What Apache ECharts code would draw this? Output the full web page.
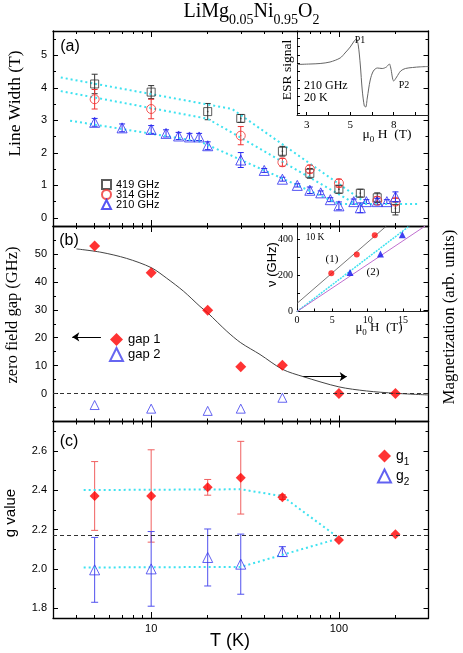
<!DOCTYPE html>
<html>
<head>
<meta charset="utf-8">
<script src="https://cdn.jsdelivr.net/npm/echarts@6/dist/echarts.min.js"></script>
<style>
  html, body { margin: 0; padding: 0; background: #fff; }
  #chart { width: 463px; height: 653px; }
</style>
</head>
<body>
<div id="chart"></div>
<script>
// values

// (a) line width vs T, three frequencies
const t419 = [5, 10, 20, 30, 50, 70, 100, 130, 160, 200]
const w419 = [4.12, 3.87, 3.27, 3.06, 2.05, 1.37, 0.88, 0.76, 0.62, 0.29]
const e419 = [0.3, 0.2, 0.25, 0.12, 0.15, 0.15, 0.12, 0.12, 0.15, 0.2]
const t314 = [5, 10, 30, 50, 70, 100, 160, 200]
const w314 = [3.65, 3.35, 2.53, 1.71, 1.5, 1.07, 0.53, 0.5]
const e314 = [0.3, 0.3, 0.28, 0.12, 0.12, 0.12, 0.12, 0.1]
const t210 = [5, 7, 10, 12, 14, 16, 18, 20, 30, 40, 50, 60, 70, 80, 90, 100, 120, 130, 140, 160, 180, 200]
const w210 = [2.94, 2.77, 2.72, 2.6, 2.52, 2.49, 2.49, 2.22, 1.78, 1.46, 1.19, 1.0, 0.85, 0.77, 0.56, 0.37, 0.5, 0.31, 0.5, 0.5, 0.5, 0.65]
const e210 = [0.12, 0.12, 0.12, 0.11, 0.11, 0.11, 0.11, 0.12, 0.23, 0.06, 0.06, 0.05, 0.1, 0.06, 0.06, 0.12, 0.08, 0.15, 0.06, 0.1, 0.06, 0.15]
// cyan guides in (a): [T, width]
const guideA419 = [[3.3, 4.32], [27, 3.35], [140, 0.45]]
const guideA314 = [[3.3, 3.9], [20, 3.05], [120, 0.46]]
const guideA210 = [[3.7, 2.99], [18.2, 2.35], [100, 0.43], [270, 0.43]]

// (a) inset: ESR trace at 210 GHz, 20 K
const esrH = [2.44, 3.19, 3.77, 4.34, 4.92, 5.2, 5.5, 5.73, 5.85, 5.96, 6.08, 6.19, 6.31, 6.39, 6.48, 6.65, 6.83, 7.06, 7.34, 7.58, 7.75, 7.83, 8.0, 8.17, 8.4, 8.67, 9.08, 9.54, 10]
const esrS = [18.6, 19.2, 19.8, 21.6, 26.4, 32.4, 39.6, 46.8, 49.2, 42, 18, -12, -31.2, -32.4, -21.6, 0, 10.8, 14.4, 13.8, 15.6, 19.2, 14.4, -1.2, 3.6, 10.8, 13.8, 15, 15.8, 16.2]
const esrTicks = [3, 5.5, 8]
const esrTickLabels = ['3', '5', '8']

// (b) zero field gap
const tGap1 = [5, 10, 20, 30, 50, 100, 200]
const gap1 = [52.8, 43.3, 29.8, 9.6, 10.1, 0, 0]
const tGap2 = [5, 10, 20, 30, 50]
const gap2 = [-4.1, -5.4, -6.2, -5.4, -1.5]
// magnetization curve (right axis, arb. units)
const magT = [4, 5.4, 7.4, 10, 12.1, 14.9, 18.2, 20, 25.3, 30, 38, 50, 64.6, 100, 140, 200, 300]
const magV = [51.8, 50.6, 48.4, 45.1, 41.3, 36.6, 31.2, 28.9, 22.3, 18.2, 14.0, 8.7, 6.05, 2.4, 0.94, 0.1, -0.5]
// arrows: [T head/tail..., value]
const arrowLeft = [3.8, 5.4, 20.3]
const arrowRight = [64.6, 110, 6.06]

// (b) inset: frequency vs field at 10 K
const mode1H = [4.85, 8.45, 11.0]
const mode1F = [213, 317, 424]
const mode2H = [7.5, 11.8, 14.9]
const mode2F = [216, 320, 426]
const fit1 = [[0, 45], [12.65, 475]]
const fitCyan = [[0, 0], [15.9, 475]]
const fitViolet = [[0, 0], [18.13, 475]]

// (c) g values
const tG1 = [5, 10, 20, 30, 50, 100, 200]
const g1 = [2.371, 2.371, 2.415, 2.464, 2.365, 2.147, 2.176]
const g1err = [0.175, 0.235, 0.04, 0.185, 0.012, 0, 0]
const tG2 = [5, 10, 20, 30, 50]
const g2 = [1.995, 2.0, 2.058, 2.024, 2.088]
const g2err = [0.165, 0.19, 0.145, 0.153, 0.025]
const guideC1 = [[4.37, 2.401], [30, 2.405], [50, 2.37], [100, 2.157]]
const guideC2 = [[4.37, 2.007], [30, 2.01], [100, 2.155]]
const gFree = 2.165

// tick positions
const xMajor = [10, 100]
const xMinor = [4, 5, 6, 7, 8, 9, 20, 30, 40, 50, 60, 70, 80, 90, 200]

const lg = Math.log10
const XMIN = lg(3)
const XMAX = lg(300)
const serif = 'Liberation Serif'
const sans = 'Liberation Sans'
const cyan = '#3ee2f0'

const grids = [
  { left: 53, top: 31, width: 375.5, height: 195 },
  { left: 53, top: 226, width: 375.5, height: 195.5 },
  { left: 53, top: 421.5, width: 375.5, height: 196.5 },
  { left: 297, top: 31, width: 131.5, height: 84 },
  { left: 297, top: 226, width: 131.5, height: 85.5 }
]

function axis(grid, position, min, max, ticks, len, extra) {
  return Object.assign({
    type: 'value', gridIndex: grid, position: position, min: min, max: max,
    axisLine: { show: false, onZero: false },
    axisTick: { show: true, inside: true, length: len, customValues: ticks, lineStyle: { color: '#000', width: 1 } },
    axisLabel: { show: false },
    splitLine: { show: false }
  }, extra || {})
}
const frame = { show: true, onZero: false, lineStyle: { color: '#000', width: 1.3 } }

const xAxis = []
const yAxis = []
// main panels: 4 x axes and 4 y axes each (major + minor on both sides)
const yRanges = [
  { min: -0.25, max: 5.75, major: [0, 1, 2, 3, 4, 5], minor: [0.5, 1.5, 2.5, 3.5, 4.5, 5.5], fmt: v => String(v) },
  { min: -10, max: 60, major: [0, 10, 20, 30, 40, 50], minor: [-5, 5, 15, 25, 35, 45, 55], fmt: v => String(v) },
  { min: 1.75, max: 2.75, major: [1.8, 2.0, 2.2, 2.4, 2.6], minor: [1.9, 2.1, 2.3, 2.5, 2.7], fmt: v => v.toFixed(1) }
]
for (let g = 0; g < 3; g++) {
  const xm = xMajor.map(lg)
  const xn = xMinor.map(lg)
  xAxis.push(axis(g, 'bottom', XMIN, XMAX, xm, 6, {
    axisLine: frame,
    axisLabel: g === 2 ? {
      show: true, customValues: xm, margin: 5, color: '#000', fontFamily: sans, fontSize: 11,
      formatter: v => String(Math.round(Math.pow(10, v)))
    } : { show: false }
  }))
  xAxis.push(axis(g, 'top', XMIN, XMAX, xm, 6, { axisLine: frame }))
  xAxis.push(axis(g, 'bottom', XMIN, XMAX, xn, 3))
  xAxis.push(axis(g, 'top', XMIN, XMAX, xn, 3))

  const r = yRanges[g]
  yAxis.push(axis(g, 'left', r.min, r.max, r.major, 5, {
    axisLine: frame,
    axisLabel: { show: true, customValues: r.major, margin: 6, color: '#000', fontFamily: sans, fontSize: 11, formatter: r.fmt }
  }))
  yAxis.push(axis(g, 'right', r.min, r.max, r.major, 5, { axisLine: frame }))
  yAxis.push(axis(g, 'left', r.min, r.max, r.minor, 3))
  yAxis.push(axis(g, 'right', r.min, r.max, r.minor, 3))
}
// insets
const thin = { show: true, onZero: false, lineStyle: { color: '#222', width: 1 } }
xAxis.push(axis(3, 'bottom', 2.44, 10, [3, 4.25, 5.5, 6.75, 8, 9.25], 3, {
  axisLine: thin,
  axisLabel: {
    show: true, customValues: esrTicks, margin: 5, color: '#000', fontFamily: serif, fontSize: 11,
    formatter: v => esrTickLabels[esrTicks.indexOf(v)]
  }
}))
yAxis.push(axis(3, 'left', -42, 58.8, [-40, -30, -20, -10, 0, 10, 20, 30, 40, 50], 3, { axisLine: thin }))
xAxis.push(axis(4, 'bottom', 0, 18.6, [0, 2.5, 5, 7.5, 10, 12.5, 15, 17.5], 3, {
  axisLine: thin,
  axisLabel: { show: true, customValues: [0, 5, 10, 15], margin: 4, color: '#000', fontFamily: serif, fontSize: 10 }
}))
yAxis.push(axis(4, 'left', 0, 475, [0, 100, 200, 300, 400], 3, {
  axisLine: thin,
  axisLabel: { show: true, customValues: [0, 200, 400], margin: 4, color: '#000', fontFamily: serif, fontSize: 10 }
}))

const pts = (ts, vs) => ts.map((t, i) => [lg(t), vs[i]])
const logPairs = arr => arr.map(p => [lg(p[0]), p[1]])

function errBars(xi, yi, ts, vs, es, color, cap) {
  const data = []
  ts.forEach((t, i) => { if (es[i] > 0) data.push([lg(t), vs[i] - es[i], vs[i] + es[i]]) })
  return {
    type: 'custom', xAxisIndex: xi, yAxisIndex: yi, silent: true, z: 1,
    data: data,
    encode: { x: 0, y: [1, 2] },
    renderItem: function(params, api) {
      const x = api.value(0)
      const lo = api.coord([x, api.value(1)])
      const hi = api.coord([x, api.value(2)])
      const st = { stroke: color, lineWidth: 1 }
      return {
        type: 'group',
        children: [
          { type: 'line', shape: { x1: lo[0], y1: lo[1], x2: hi[0], y2: hi[1] }, style: st },
          { type: 'line', shape: { x1: lo[0] - cap, y1: lo[1], x2: lo[0] + cap, y2: lo[1] }, style: st },
          { type: 'line', shape: { x1: hi[0] - cap, y1: hi[1], x2: hi[0] + cap, y2: hi[1] }, style: st }
        ]
      }
    }
  }
}

function guide(xi, yi, data) {
  return {
    type: 'line', xAxisIndex: xi, yAxisIndex: yi, data: data, symbol: 'none', silent: true, z: 1,
    lineStyle: { color: cyan, width: 2, type: [2, 3] }
  }
}

function hollow(name, xi, yi, data, symbol, size, color) {
  return {
    type: 'scatter', name: name, xAxisIndex: xi, yAxisIndex: yi, data: data,
    symbol: symbol, symbolSize: size, z: 3,
    itemStyle: { color: 'rgba(255,255,255,0)', borderColor: color, borderWidth: 1 }
  }
}
function filled(name, xi, yi, data, symbol, size, color) {
  return {
    type: 'scatter', name: name, xAxisIndex: xi, yAxisIndex: yi, data: data,
    symbol: symbol, symbolSize: size, z: 3,
    itemStyle: { color: color }
  }
}

const black = '#333'
const red = '#f03030'
const blue = '#2a2af0'

const series = [
  // (a)
  guide(0, 0, logPairs(guideA419)),
  guide(0, 0, logPairs(guideA314)),
  guide(0, 0, logPairs(guideA210)),
  errBars(0, 0, t419, w419, e419, black, 3),
  errBars(0, 0, t314, w314, e314, red, 3),
  errBars(0, 0, t210, w210, e210, blue, 3),
  hollow('419 GHz', 0, 0, pts(t419, w419), 'rect', 8, black),
  filled(null, 0, 0, pts(t419, w419), 'rect', 1.5, black),
  hollow('314 GHz', 0, 0, pts(t314, w314), 'circle', 9, red),
  filled(null, 0, 0, pts(t314, w314), 'circle', 1.5, red),
  hollow('210 GHz', 0, 0, pts(t210, w210), 'triangle', 10, blue),
  // (a) inset
  {
    type: 'line', xAxisIndex: 12, yAxisIndex: 12, data: esrH.map((h, i) => [h, esrS[i]]),
    symbol: 'none', smooth: 0.3, silent: true, lineStyle: { color: '#666', width: 1 }
  },
  // (b)
  {
    type: 'line', xAxisIndex: 4, yAxisIndex: 5, data: pts(magT, magV), symbol: 'none', smooth: 0.3, silent: true,
    lineStyle: { color: '#444', width: 1 },
    markLine: {
      silent: true, symbolSize: 7, label: { show: false },
      lineStyle: { color: '#000', width: 1, type: 'solid' },
      data: [
        [{ coord: [lg(arrowLeft[0]), arrowLeft[2]], symbol: 'arrow' }, { coord: [lg(arrowLeft[1]), arrowLeft[2]], symbol: 'none' }],
        [{ coord: [lg(arrowRight[0]), arrowRight[2]], symbol: 'none' }, { coord: [lg(arrowRight[1]), arrowRight[2]], symbol: 'arrow' }]
      ]
    }
  },
  filled('gap 1', 4, 4, pts(tGap1, gap1), 'diamond', 11, '#ff0000'),
  Object.assign(hollow('gap 2', 4, 4, pts(tGap2, gap2), 'triangle', 9, '#4040ee'), {
    markLine: {
      silent: true, symbol: 'none', label: { show: false },
      lineStyle: { color: '#333', width: 1, type: [4, 3] },
      data: [{ yAxis: 0 }]
    }
  }),
  // (b) inset
  { type: 'line', xAxisIndex: 13, yAxisIndex: 13, data: fit1, symbol: 'none', silent: true, lineStyle: { color: '#555', width: 0.8 } },
  { type: 'line', xAxisIndex: 13, yAxisIndex: 13, data: fitCyan, symbol: 'none', silent: true, lineStyle: { color: cyan, width: 1.5, type: [2, 1] } },
  { type: 'line', xAxisIndex: 13, yAxisIndex: 13, data: fitViolet, symbol: 'none', silent: true, lineStyle: { color: '#c070d0', width: 1 } },
  filled(null, 13, 13, mode1H.map((h, i) => [h, mode1F[i]]), 'circle', 6, '#ff1010'),
  filled(null, 13, 13, mode2H.map((h, i) => [h, mode2F[i]]), 'triangle', 7, '#1010ee'),
  // (c)
  Object.assign(guide(8, 8, logPairs(guideC1)), {
    markLine: {
      silent: true, symbol: 'none', label: { show: false },
      lineStyle: { color: '#333', width: 1, type: [4, 3] },
      data: [{ yAxis: gFree }]
    }
  }),
  guide(8, 8, logPairs(guideC2)),
  errBars(8, 8, tG1, g1, g1err, '#f06060', 3.5),
  errBars(8, 8, tG2, g2, g2err, '#5050ee', 3.5),
  filled('g1', 8, 8, pts(tG1, g1), 'diamond', 10, '#ff0000'),
  hollow('g2', 8, 8, pts(tG2, g2), 'triangle', 10, '#3a3aee')
]

const legend = [
  {
    data: ['419 GHz', '314 GHz', '210 GHz'], orient: 'vertical', left: 96, top: 174,
    itemWidth: 9, itemHeight: 9, itemGap: -1, itemTextGap: 7, selectedMode: false,
    textStyle: { fontFamily: sans, fontSize: 11, color: '#000' }
  },
  {
    data: ['gap 1', 'gap 2'], orient: 'vertical', left: 104, top: 328,
    itemWidth: 13, itemHeight: 13, itemGap: 1, itemTextGap: 9, selectedMode: false,
    textStyle: { fontFamily: sans, fontSize: 13, color: '#000' }
  },
  {
    data: ['g1', 'g2'], orient: 'vertical', left: 372, top: 444,
    itemWidth: 13, itemHeight: 13, itemGap: 1, itemTextGap: 6, selectedMode: false,
    formatter: name => 'g{s|' + name.slice(1) + '}',
    textStyle: {
      fontFamily: sans, fontSize: 14, color: '#000',
      rich: { s: { fontFamily: sans, fontSize: 10, padding: [13, 0, 0, 0] } }
    }
  }
]

function text(x, y, str, size, family, extra) {
  return Object.assign({
    type: 'text', x: x, y: y, silent: true, z: 10,
    style: { text: str, fontSize: size, fontFamily: family, fill: '#000', textAlign: 'center', textVerticalAlign: 'middle' }
  }, extra || {})
}
function richText(x, y, str, size, sub, pad, family, extra) {
  const t = text(x, y, str, size, family, extra)
  t.style.rich = {
    m: { fontSize: size, fontFamily: family, fill: '#000' },
    s: { fontSize: sub, fontFamily: family, fill: '#000', padding: [pad, 0, 0, 0] }
  }
  return t
}
function leftText(x, y, str, size, family) {
  const t = text(x, y, str, size, family)
  t.style.textAlign = 'left'
  return t
}
const up = Math.PI / 2

const graphic = [
  richText(251.5, 11.5, '{m|LiMg}{s|0.05}{m|Ni}{s|0.95}{m|O}{s|2}', 20, 14, 17, serif),
  text(70, 46.5, '(a)', 16, sans),
  text(69, 240.5, '(b)', 16, sans),
  text(69, 442, '(c)', 16, sans),
  text(15, 103.5, 'Line Width (T)', 17.5, serif, { rotation: up }),
  text(12.5, 315, 'zero field gap (GHz)', 16.5, serif, { rotation: up }),
  text(450, 317, 'Magnetization (arb. units)', 16.8, serif, { rotation: up }),
  text(10.5, 513, 'g value', 15, sans, { rotation: up }),
  text(230, 641.5, 'T (K)', 18, sans),
  // (a) inset
  text(287, 70, 'ESR signal', 13.5, serif, { rotation: up }),
  leftText(304, 86, '210 GHz', 12, serif),
  leftText(304, 97.5, '20 K', 12, serif),
  text(360, 40, 'P1', 10, serif),
  text(404, 85, 'P2', 10, serif),
  richText(387, 134, '{m|μ}{s|0}{m| H  (T)}', 13.5, 9, 11, serif),
  // (b) inset
  text(315, 237, '10 K', 9.5, serif),
  text(332, 259, '(1)', 11, serif),
  text(373, 272, '(2)', 11, serif),
  text(272, 264.5, 'ν (GHz)', 13, sans, { rotation: up }),
  richText(379, 328, '{m|μ}{s|0}{m| H  (T)}', 13, 9, 10, serif)
]

const chart = echarts.init(document.getElementById('chart'))
chart.setOption({
  animation: false,
  backgroundColor: '#fff',
  grid: grids,
  xAxis: xAxis,
  yAxis: yAxis,
  legend: legend,
  series: series,
  graphic: graphic
})
</script>
</body>
</html>
